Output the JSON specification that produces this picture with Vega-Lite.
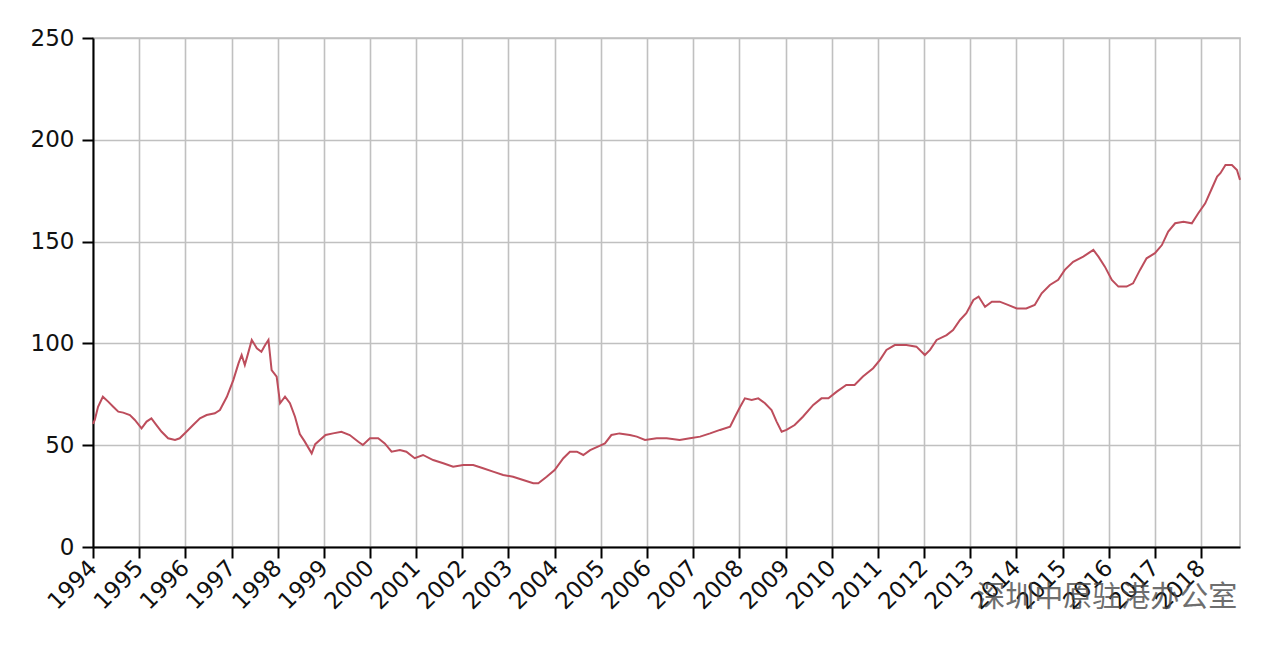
{
  "$schema": "https://vega.github.io/schema/vega-lite/v6.json",
  "autosize": "none",
  "width": 1147,
  "height": 509,
  "padding": {"left": 93, "top": 38, "right": 40, "bottom": 105},
  "background": "white",
  "config": {
    "view": {"stroke": "#c0c0c0", "strokeWidth": 1.6},
    "axis": {
      "labelFont": "DejaVu Sans",
      "labelFontSize": 23,
      "labelColor": "#111111",
      "domainColor": "#000000",
      "domainWidth": 2,
      "tickColor": "#000000",
      "tickWidth": 2,
      "tickSize": 11,
      "gridColor": "#c0c0c0",
      "gridWidth": 1.6,
      "gridOpacity": 1,
      "title": null
    }
  },
  "datasets": {
    "ccl": [
      {"date": "1994-01-01", "value": 60.5},
      {"date": "1994-01-15", "value": 62.4},
      {"date": "1994-02-10", "value": 68.9},
      {"date": "1994-03-20", "value": 73.8},
      {"date": "1994-05-01", "value": 71.4},
      {"date": "1994-06-10", "value": 68.9},
      {"date": "1994-07-20", "value": 66.5},
      {"date": "1994-08-28", "value": 66.0},
      {"date": "1994-10-20", "value": 64.8},
      {"date": "1994-11-28", "value": 62.4},
      {"date": "1995-01-20", "value": 58.3},
      {"date": "1995-03-01", "value": 61.6},
      {"date": "1995-04-08", "value": 63.2},
      {"date": "1995-05-18", "value": 59.9},
      {"date": "1995-06-28", "value": 56.6},
      {"date": "1995-08-18", "value": 53.4},
      {"date": "1995-10-12", "value": 52.6},
      {"date": "1995-11-18", "value": 53.4},
      {"date": "1996-01-10", "value": 56.6},
      {"date": "1996-03-03", "value": 59.9},
      {"date": "1996-04-26", "value": 63.2},
      {"date": "1996-06-18", "value": 64.8},
      {"date": "1996-08-22", "value": 65.7},
      {"date": "1996-10-01", "value": 67.3},
      {"date": "1996-11-25", "value": 73.8},
      {"date": "1997-01-15", "value": 82.0},
      {"date": "1997-02-25", "value": 90.2},
      {"date": "1997-03-22", "value": 94.3},
      {"date": "1997-04-16", "value": 89.4},
      {"date": "1997-05-12", "value": 95.1},
      {"date": "1997-06-10", "value": 101.7},
      {"date": "1997-07-20", "value": 97.6},
      {"date": "1997-08-25", "value": 95.9},
      {"date": "1997-09-24", "value": 99.2},
      {"date": "1997-10-20", "value": 101.7},
      {"date": "1997-11-14", "value": 86.9},
      {"date": "1997-12-24", "value": 83.7},
      {"date": "1998-01-20", "value": 70.6},
      {"date": "1998-02-28", "value": 73.8},
      {"date": "1998-04-08", "value": 70.6},
      {"date": "1998-05-18", "value": 64.0},
      {"date": "1998-06-25", "value": 55.5},
      {"date": "1998-08-01", "value": 52.0},
      {"date": "1998-09-27", "value": 46.0},
      {"date": "1998-10-25", "value": 50.5},
      {"date": "1998-12-01", "value": 52.6},
      {"date": "1999-01-15", "value": 55.0},
      {"date": "1999-03-15", "value": 55.8},
      {"date": "1999-05-20", "value": 56.6},
      {"date": "1999-07-25", "value": 55.0},
      {"date": "1999-10-01", "value": 51.7},
      {"date": "1999-11-06", "value": 50.1},
      {"date": "2000-01-01", "value": 53.4},
      {"date": "2000-03-06", "value": 53.4},
      {"date": "2000-04-27", "value": 50.9},
      {"date": "2000-06-20", "value": 46.8},
      {"date": "2000-08-25", "value": 47.6},
      {"date": "2000-10-15", "value": 46.8},
      {"date": "2000-12-20", "value": 43.6},
      {"date": "2001-02-24", "value": 45.2},
      {"date": "2001-05-15", "value": 42.7},
      {"date": "2001-08-03", "value": 41.1},
      {"date": "2001-10-20", "value": 39.4},
      {"date": "2002-01-08", "value": 40.3},
      {"date": "2002-03-28", "value": 40.3},
      {"date": "2002-06-14", "value": 38.7},
      {"date": "2002-09-01", "value": 37.0},
      {"date": "2002-11-20", "value": 35.4},
      {"date": "2003-02-06", "value": 34.5},
      {"date": "2003-04-27", "value": 32.9},
      {"date": "2003-07-16", "value": 31.3},
      {"date": "2003-08-25", "value": 31.3},
      {"date": "2003-10-30", "value": 34.5},
      {"date": "2004-01-01", "value": 37.8},
      {"date": "2004-03-10", "value": 43.6},
      {"date": "2004-05-01", "value": 46.8},
      {"date": "2004-06-25", "value": 46.8},
      {"date": "2004-08-15", "value": 45.2},
      {"date": "2004-10-08", "value": 47.6},
      {"date": "2004-12-08", "value": 49.3},
      {"date": "2005-02-02", "value": 50.9},
      {"date": "2005-03-25", "value": 55.0},
      {"date": "2005-05-28", "value": 55.8},
      {"date": "2005-08-18", "value": 55.0},
      {"date": "2005-10-12", "value": 54.2},
      {"date": "2005-12-16", "value": 52.6},
      {"date": "2006-03-18", "value": 53.4},
      {"date": "2006-06-05", "value": 53.4},
      {"date": "2006-09-16", "value": 52.6},
      {"date": "2006-12-06", "value": 53.4},
      {"date": "2007-02-25", "value": 54.2},
      {"date": "2007-05-15", "value": 55.8},
      {"date": "2007-08-01", "value": 57.5},
      {"date": "2007-10-20", "value": 59.1},
      {"date": "2007-11-28", "value": 64.0},
      {"date": "2008-01-08", "value": 68.9},
      {"date": "2008-02-14", "value": 73.0},
      {"date": "2008-04-08", "value": 72.2},
      {"date": "2008-05-30", "value": 73.0},
      {"date": "2008-07-22", "value": 70.6},
      {"date": "2008-09-12", "value": 67.3},
      {"date": "2008-10-22", "value": 61.6},
      {"date": "2008-12-01", "value": 56.6},
      {"date": "2009-01-08", "value": 57.5},
      {"date": "2009-03-14", "value": 59.9},
      {"date": "2009-05-18", "value": 64.0},
      {"date": "2009-08-08", "value": 69.8},
      {"date": "2009-10-12", "value": 73.0},
      {"date": "2009-12-06", "value": 73.0},
      {"date": "2010-02-10", "value": 76.3},
      {"date": "2010-04-26", "value": 79.6},
      {"date": "2010-07-01", "value": 79.6},
      {"date": "2010-09-05", "value": 83.7},
      {"date": "2010-11-25", "value": 87.8},
      {"date": "2011-01-18", "value": 91.9},
      {"date": "2011-03-10", "value": 96.8},
      {"date": "2011-05-15", "value": 99.2},
      {"date": "2011-08-15", "value": 99.2},
      {"date": "2011-11-02", "value": 98.4},
      {"date": "2012-01-08", "value": 94.3},
      {"date": "2012-02-18", "value": 96.8},
      {"date": "2012-04-10", "value": 101.7},
      {"date": "2012-06-28", "value": 104.1},
      {"date": "2012-08-18", "value": 106.6},
      {"date": "2012-10-12", "value": 111.5},
      {"date": "2012-12-01", "value": 114.8},
      {"date": "2013-01-26", "value": 121.3},
      {"date": "2013-03-08", "value": 123.0},
      {"date": "2013-04-28", "value": 118.0},
      {"date": "2013-06-21", "value": 120.5},
      {"date": "2013-08-22", "value": 120.5},
      {"date": "2013-10-26", "value": 118.9},
      {"date": "2014-01-04", "value": 117.2},
      {"date": "2014-03-20", "value": 117.2},
      {"date": "2014-05-26", "value": 118.9},
      {"date": "2014-07-20", "value": 124.6},
      {"date": "2014-09-23", "value": 128.7},
      {"date": "2014-11-28", "value": 131.2},
      {"date": "2015-01-19", "value": 136.1},
      {"date": "2015-03-26", "value": 140.1},
      {"date": "2015-06-14", "value": 142.6},
      {"date": "2015-09-02", "value": 145.9},
      {"date": "2015-10-12", "value": 142.6},
      {"date": "2015-12-02", "value": 137.7},
      {"date": "2016-01-26", "value": 131.2},
      {"date": "2016-03-18", "value": 127.9},
      {"date": "2016-05-22", "value": 127.9},
      {"date": "2016-07-12", "value": 129.5},
      {"date": "2016-09-05", "value": 136.1},
      {"date": "2016-10-27", "value": 141.8},
      {"date": "2017-01-01", "value": 144.3},
      {"date": "2017-02-25", "value": 148.3},
      {"date": "2017-04-16", "value": 154.9},
      {"date": "2017-06-10", "value": 159.0},
      {"date": "2017-08-15", "value": 159.8},
      {"date": "2017-10-20", "value": 159.0},
      {"date": "2017-12-10", "value": 163.9},
      {"date": "2018-02-03", "value": 168.8},
      {"date": "2018-03-28", "value": 176.2},
      {"date": "2018-05-08", "value": 181.9},
      {"date": "2018-06-03", "value": 183.6},
      {"date": "2018-07-13", "value": 187.6},
      {"date": "2018-09-02", "value": 187.6},
      {"date": "2018-10-12", "value": 185.2},
      {"date": "2018-11-05", "value": 180.3}
    ],
    "mark": [
      {"date": "2015-12-16", "value": -25, "label": "深圳中原驻港办公室"}
    ]
  },
  "layer": [
    {
      "data": {"name": "ccl"},
      "mark": {"type": "line", "color": "#bd4d5c", "strokeWidth": 2},
      "encoding": {
        "x": {
          "field": "date",
          "type": "temporal",
          "scale": {"domain": [{"year": 1994, "month": 1, "date": 1}, {"year": 2018, "month": 11, "date": 5}]},
          "axis": {
            "format": "%Y",
            "tickCount": {"interval": "year", "step": 1},
            "labelAngle": -45,
            "labelAlign": "right",
            "labelBaseline": "middle",
            "labelPadding": 6,
            "labelFlush": false,
            "labelOverlap": false,
            "grid": true
          }
        },
        "y": {
          "field": "value",
          "type": "quantitative",
          "scale": {"domain": [0, 250], "nice": false},
          "axis": {"values": [0, 50, 100, 150, 200, 250], "labelPadding": 8, "grid": true}
        }
      }
    },
    {
      "data": {"name": "mark"},
      "mark": {"type": "text", "font": "Noto Sans CJK SC", "fontSize": 29, "color": "#4a4a4a", "opacity": 0.8, "align": "center", "baseline": "middle", "clip": false},
      "encoding": {
        "x": {"field": "date", "type": "temporal"},
        "y": {"field": "value", "type": "quantitative"},
        "text": {"field": "label"}
      }
    }
  ]
}
